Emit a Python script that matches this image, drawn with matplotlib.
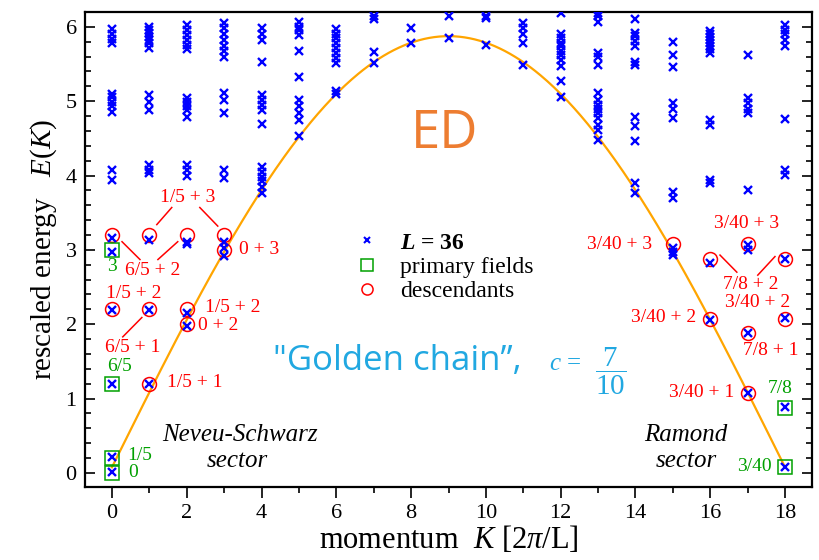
import matplotlib
matplotlib.use("Agg")
import matplotlib.pyplot as plt
import numpy as np

plt.rcParams['font.family'] = ['Liberation Serif', 'DejaVu Serif']
plt.rcParams['mathtext.fontset'] = 'custom'
plt.rcParams['mathtext.rm'] = 'Liberation Serif'
plt.rcParams['mathtext.it'] = 'Liberation Serif:italic'
plt.rcParams['mathtext.bf'] = 'Liberation Serif:bold'
plt.rcParams['mathtext.bfit'] = 'Liberation Serif:italic:bold'

# ---------------- data ----------------
# ED levels (L = 36) per momentum K
ed_k0 = [0.01, 0.21, 1.20, 2.19, 2.97, 3.16, 3.94, 4.08, 4.85, 4.94, 4.99, 5.05, 5.10, 5.78, 5.84, 5.91, 5.97]
ed_k1 = [1.20, 2.19, 3.13, 4.03, 4.07, 4.14, 4.88, 4.99, 5.09, 5.72, 5.78, 5.83, 5.87, 5.92, 5.96, 6.00]
ed_k2 = [1.98, 2.15, 3.08, 3.11, 4.00, 4.07, 4.14, 4.79, 4.88, 4.94, 4.99, 5.04, 5.70, 5.76, 5.83, 5.89, 5.96, 6.02]
ed_k3 = [2.92, 3.03, 3.11, 3.97, 4.07, 4.84, 5.02, 5.11, 5.60, 5.67, 5.74, 5.83, 5.91, 5.98, 6.05]
ed_k4 = [3.77, 3.85, 3.92, 3.98, 4.05, 4.12, 4.70, 4.88, 4.95, 5.02, 5.09, 5.53, 5.83, 5.91, 5.98]
ed_k5 = [4.53, 4.75, 4.84, 4.93, 5.02, 5.33, 5.67, 5.89, 5.96, 6.00, 6.06]
ed_k6 = [5.10, 5.14, 5.51, 5.58, 5.65, 5.72, 5.78, 5.85, 5.91, 5.97]
ed_k7 = [5.52, 5.66, 6.11, 6.15]
ed_k8 = [5.78, 5.98]
ed_k9 = [5.85, 6.15]
ed_k10 = [5.76, 6.12, 6.15]
ed_k11 = [5.49, 5.78, 5.91, 5.98, 6.05]
ed_k12 = [5.06, 5.27, 5.47, 5.56, 5.62, 5.67, 5.74, 5.78, 5.85, 5.91, 6.18]
ed_k13 = [4.48, 4.61, 4.68, 4.77, 4.84, 4.90, 4.95, 5.02, 5.11, 5.49, 5.60, 5.65, 6.06, 6.14, 6.19]
ed_k14 = [3.77, 3.90, 4.46, 4.67, 4.79, 5.49, 5.53, 5.74, 5.81, 5.88, 5.92, 6.10]
ed_k15 = [2.93, 2.97, 3.03, 3.70, 3.78, 4.77, 4.90, 4.97, 5.46, 5.62, 5.80]
ed_k16 = [2.06, 2.82, 3.90, 3.94, 4.68, 4.75, 5.65, 5.70, 5.74, 5.78, 5.82, 5.86, 5.90, 5.94]
ed_k17 = [1.08, 1.88, 3.00, 3.07, 3.81, 4.84, 4.90, 4.97, 5.04, 5.62]
ed_k18 = [0.08, 0.89, 2.08, 2.88, 4.01, 4.07, 4.76, 5.74, 5.83, 5.90, 5.96, 6.03]
ed_levels = [ed_k0, ed_k1, ed_k2, ed_k3, ed_k4, ed_k5, ed_k6, ed_k7, ed_k8, ed_k9,
             ed_k10, ed_k11, ed_k12, ed_k13, ed_k14, ed_k15, ed_k16, ed_k17, ed_k18]

# CFT primary fields
primary_K = [0, 0, 0, 0, 18, 18]
primary_E = [0.0, 0.2, 1.2, 3.0, 0.075, 0.875]
primary_labels = ["0", "1/5", "6/5", "3", "3/40", "7/8"]

# CFT descendants
desc_K = [1, 0, 1, 2, 2, 0, 1, 2, 3, 3, 15, 16, 16, 17, 17, 17, 18, 18]
desc_E = [1.2, 2.2, 2.2, 2.2, 2.0, 3.2, 3.2, 3.2, 3.2, 3.0,
          3.075, 2.875, 2.075, 3.075, 1.875, 1.075, 2.875, 2.075]

# dispersion curve parameters
curve_amp = 5.80
curve_offset = 0.075
curve_period_K = 18

# red descendant labels: text, x, y
desc_text = ["1/5 + 3", "6/5 + 2", "0 + 3", "1/5 + 2", "6/5 + 1", "1/5 + 2", "0 + 2", "1/5 + 1",
             "3/40 + 3", "3/40 + 3", "7/8 + 2", "3/40 + 2", "3/40 + 2", "7/8 + 1", "3/40 + 1"]
desc_tx = [2.03, 1.10, 3.93, 0.59, 0.56, 3.24, 2.83, 2.22,
           13.58, 16.98, 17.09, 17.27, 14.76, 17.62, 15.78]
desc_ty = [3.70, 2.72, 3.00, 2.41, 1.68, 2.23, 1.98, 1.21,
           3.07, 3.36, 2.54, 2.29, 2.09, 1.65, 1.08]

# green primary labels positions
prim_tx = [0.56, 0.75, 0.21, 0.0, 17.17, 17.86]
prim_ty = [0.0, 0.24, 1.43, 2.77, 0.08, 1.14]

# connector lines (x0, x1, y0, y1)
conn_x = [(1.20, 1.60), (2.35, 2.83), (0.27, 0.75), (1.23, 1.76), (0.29, 0.80), (16.26, 16.71), (17.27, 17.73)]
conn_y = [(3.34, 3.57), (3.57, 3.32), (3.11, 2.87), (2.87, 3.11), (1.83, 2.09), (2.93, 2.70), (2.66, 2.91)]

xticks = [0, 2, 4, 6, 8, 10, 12, 14, 16, 18]
yticks = [0, 1, 2, 3, 4, 5, 6]

# ---------------- figure ----------------
fig = plt.figure(figsize=(8.2, 5.6), dpi=100)
ax = fig.add_axes([85/820, 1-487/560, (812-85)/820, (487-12)/560])
ax.set_xlim(-0.72, 18.72)
ax.set_ylim(-0.19, 6.20)

RED = '#ff0000'
GREEN = '#00a000'
BLUE = '#0000ff'
ORANGE = '#ffa500'
CYAN = '#21a8e1'

kk = np.linspace(0, curve_period_K, 400)
ax.plot(kk, curve_offset + curve_amp*np.sin(np.pi*kk/curve_period_K), color=ORANGE, lw=1.6, zorder=1)

ax.plot(desc_K, desc_E, linestyle='none', marker='o', ms=10, mfc='none', mec=RED, mew=1.1, zorder=2)
ax.plot(primary_K, primary_E, linestyle='none', marker='s', ms=10, mfc='none', mec=GREEN, mew=1.1, zorder=2)

for k, levels in enumerate(ed_levels):
    ax.plot([k]*len(levels), levels, linestyle='none', marker='x', ms=6, mec=BLUE, mew=1.7, zorder=3)

for t, x, y in zip(desc_text, desc_tx, desc_ty):
    ax.text(x, y, t, color=RED, fontsize=14, ha='center', va='center', zorder=4)
for t, x, y in zip(primary_labels, prim_tx, prim_ty):
    ax.text(x, y, t, color=GREEN, fontsize=14, ha='center', va='center', zorder=4)
for xs, ys in zip(conn_x, conn_y):
    ax.plot(xs, ys, color=RED, lw=1.1, zorder=4)

ax.text(3.42, 0.51, "Neveu-Schwarz", style='italic', fontsize=18, ha='center', va='center')
ax.text(3.34, 0.16, "sector", style='italic', fontsize=18, ha='center', va='center')
ax.text(15.35, 0.51, "Ramond", style='italic', fontsize=18, ha='center', va='center')
ax.text(15.37, 0.16, "sector", style='italic', fontsize=18, ha='center', va='center')

ax.text(8.90, 4.55, "ED", color='#ed7d31', fontsize=38, family='Open Sans', ha='center', va='center')
ax.text(4.30, 1.386, "\"Golden chain\u201d,", color=CYAN, fontsize=25, family='Open Sans',
        ha='left', va='baseline')
ax.text(11.68, 1.386, r"$c$ =", color=CYAN, fontsize=18, ha='left', va='baseline')
ax.text(13.34, 1.36, r"$\dfrac{7}{10}$", color=CYAN, fontsize=21, ha='center', va='center')

# legend
h1, = ax.plot([], [], linestyle='none', marker='x', ms=5, mec=BLUE, mew=1.5)
h2, = ax.plot([], [], linestyle='none', marker='s', ms=8, mfc='none', mec=GREEN, mew=1.1)
h3, = ax.plot([], [], linestyle='none', marker='o', ms=8, mfc='none', mec=RED, mew=1.1)
leg = ax.legend([h1, h2, h3], [r"$\mathbfit{L}$ = 36", "primary fields", "descendants"],
                loc='upper left', bbox_to_anchor=((355-85)/727, (487-232)/475),
                frameon=False, fontsize=17, handlelength=1.0, handletextpad=0.9,
                labelspacing=0.12, borderpad=0, borderaxespad=0)
leg.get_texts()[0].set_fontweight('bold')

ax.set_xticks(xticks)
ax.set_yticks(yticks)
ax.set_xticks(np.arange(1, 18, 2), minor=True)
ax.set_yticks(np.arange(0, 6.01, 0.2), minor=True)
ax.tick_params(axis='x', which='both', direction='out', top=False, labelsize=16, pad=4)
ax.tick_params(axis='x', which='major', length=8, width=1.2)
ax.tick_params(axis='x', which='minor', length=4, width=1.2)
ax.tick_params(axis='y', which='both', direction='in', left=True, right=True, labelsize=16, pad=6)
ax.tick_params(axis='y', which='major', length=7, width=1.2)
ax.tick_params(axis='y', which='minor', length=4, width=1.2)
for s in ax.spines.values():
    s.set_linewidth(1.6)

ax.set_xlabel(r"momentum  $K$ [2$\pi$/L]", fontsize=22, labelpad=1)
ax.set_ylabel(r"rescaled energy   $E(K)$", fontsize=21, labelpad=5)

fig.savefig("out.png", dpi=100)
